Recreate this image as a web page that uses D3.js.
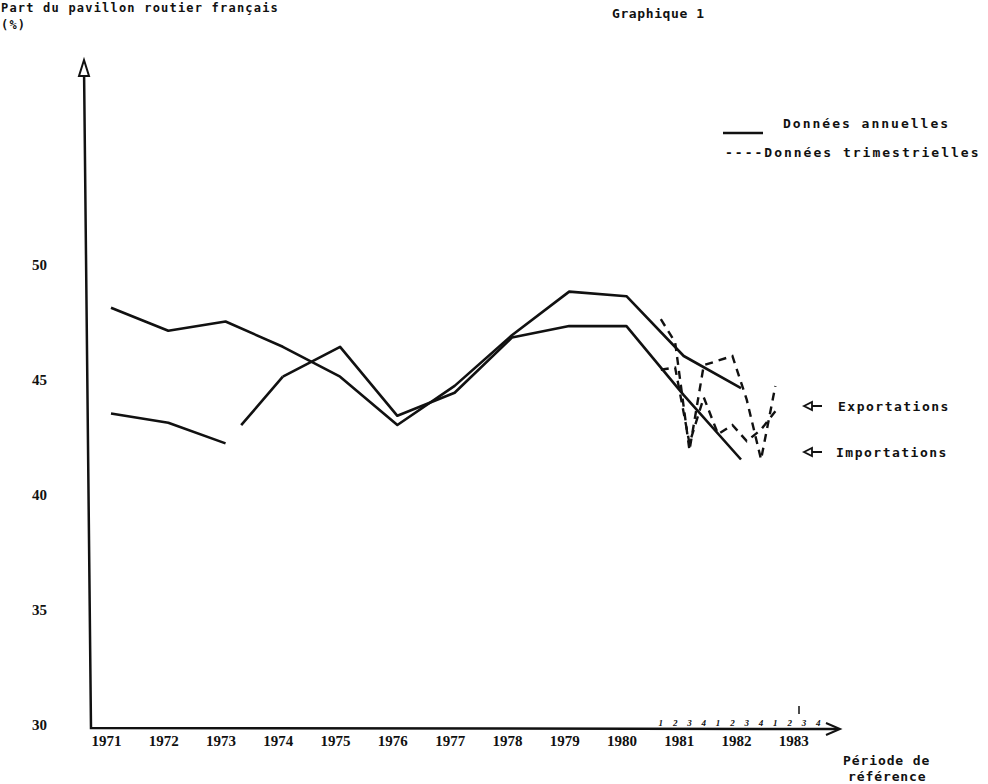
<!DOCTYPE html>
<html><head><meta charset="utf-8">
<script src="https://cdn.jsdelivr.net/npm/d3@7"></script>
<style>
body{margin:0;background:#fff;}
svg{display:block;}
.tw{font-family:"DejaVu Sans Mono",monospace;font-weight:bold;font-size:13px;fill:#111;}
.num{font-family:"Liberation Serif",serif;font-weight:bold;font-size:15px;fill:#111;}
.q{font-family:"Liberation Serif",serif;font-style:italic;font-weight:bold;font-size:9px;fill:#111;}
</style></head><body>
<svg id="c" width="988" height="784"></svg>
<script>
// ---- data ----
const years = [1971,1972,1973,1974,1975,1976,1977,1978,1979,1980,1981,1982];
const exportsAnnual = [48.1,47.1,47.5,46.4,45.1,43.0,44.7,46.9,48.8,48.6,46.0,44.6];
const importsAnnual = [43.5,43.1,42.2,45.1,46.4,43.4,44.4,46.8,47.3,47.3,44.3,41.5];
const quarterYears = [1981,1981,1981,1981,1982,1982,1982,1982,1983];
const quarterNums  = [1,2,3,4,1,2,3,4,1];
const exportsQuarterly = [47.6,46.6,41.9,45.6,45.8,46.0,44.1,41.5,44.7];
const importsQuarterly = [45.4,45.5,42.2,44.2,42.6,43.0,42.3,42.8,43.6];
const yearLabels = [1971,1972,1973,1974,1975,1976,1977,1978,1979,1980,1981,1982,1983];
const quarterLabelYears = [1981,1982,1983];
const quarterLabels = ["1","2","3","4"];
const yTicks = [30,35,40,45,50];

// ---- scales ----
const svg = d3.select("#c");
const x = d3.scaleLinear().domain([1971,1982]).range([111,741]);
const y = d3.scaleLinear().domain([30,50]).range([724,264]);
const tq = (Y,q) => Y - 0.4 + (q-1)/4;

// ---- axes ----
const ink = "#111";
svg.append("path").attr("d","M84,66 L91,728 L838,729")
  .attr("fill","none").attr("stroke",ink).attr("stroke-width",2.5);
svg.append("path").attr("d","M79,76 L84,60 L89,76 Z").attr("fill","#fff").attr("stroke",ink).attr("stroke-width",2);
svg.append("path").attr("d","M826,723 L840,729 L826,735").attr("fill","none").attr("stroke",ink).attr("stroke-width",2);

const yAxis = d3.axisLeft(y).tickValues(yTicks).tickSize(0).tickPadding(0).tickFormat(d3.format("d"));
const gy = svg.append("g").attr("transform","translate(47,0)").call(yAxis);
gy.select(".domain").remove();
gy.selectAll("text").attr("class","num").attr("text-anchor","end").attr("dy","0.35em").attr("fill",ink);

const xAxis = d3.axisBottom(x).tickValues(yearLabels).tickSize(0).tickPadding(0).tickFormat(d3.format("d"));
const gx = svg.append("g").attr("transform","translate(-5,735)").call(xAxis);
gx.select(".domain").remove();
gx.selectAll("text").attr("class","num").attr("dy","0.75em").attr("fill",ink);

const qData = quarterLabelYears.flatMap(Y => quarterLabels.map((l,i)=>({Y, q:i+1, l})));
svg.selectAll("text.q").data(qData).join("text").attr("class","q")
  .attr("x", d => x(tq(d.Y,d.q))).attr("y",726).attr("text-anchor","middle").text(d=>d.l);
svg.append("line").attr("x1",x(tq(1983,3))-5).attr("x2",x(tq(1983,3))-5).attr("y1",706).attr("y2",714)
  .attr("stroke",ink).attr("stroke-width",1.5);

// ---- lines ----
const line = d3.line().x(d=>x(d.t)).y(d=>y(d.v));
const expA = years.map((t,i)=>({t, v:exportsAnnual[i]}));
const impA = years.map((t,i)=>({t, v:importsAnnual[i]}));
const solid = sel => sel.attr("fill","none").attr("stroke",ink).attr("stroke-width",2.6).attr("stroke-linejoin","round");
solid(svg.append("path").datum(expA).attr("d",line));
solid(svg.append("path").datum(impA.slice(0,3)).attr("d",line));
solid(svg.append("path").datum(impA.slice(2,4)).attr("d",line)).attr("stroke-dasharray","0 24 400");
solid(svg.append("path").datum(impA.slice(3)).attr("d",line));

const expQ = quarterYears.map((Y,i)=>({t:tq(Y,quarterNums[i]), v:exportsQuarterly[i]}));
const impQ = quarterYears.map((Y,i)=>({t:tq(Y,quarterNums[i]), v:importsQuarterly[i]}));
[expQ, impQ].forEach(d => svg.append("path").datum(d).attr("d",line).attr("fill","none")
  .attr("stroke",ink).attr("stroke-width",2.4).attr("stroke-dasharray","8 6"));

// ---- texts ----
const t = (xx,yy,s,ls,fs=13) => svg.append("text").attr("class","tw").attr("x",xx).attr("y",yy)
  .style("letter-spacing", ls+"px").style("font-size", fs+"px").text(s);
t(1,12,"Part du pavillon routier français",1.2,12);
t(1,29,"(%)",1.2,12);
t(612,18,"Graphique 1",0.6);
t(783,128,"Données annuelles",2);
svg.append("line").attr("x1",723).attr("x2",763).attr("y1",133).attr("y2",133).attr("stroke",ink).attr("stroke-width",2.5);
t(725,157,"----Données trimestrielles",2);
t(838,411,"Exportations",1.5);
t(836,457,"Importations",1.5);
[406,452].forEach(yy=>{
  svg.append("path").attr("d",`M804,${yy} L812,${yy-4} L812,${yy+4} Z`).attr("fill","#fff").attr("stroke",ink).attr("stroke-width",1.8);
  svg.append("line").attr("x1",812).attr("x2",822).attr("y1",yy).attr("y2",yy).attr("stroke",ink).attr("stroke-width",2);
});
t(843,765,"Période de",0.9);
t(848,781,"référence",0.9);
</script></body></html>
